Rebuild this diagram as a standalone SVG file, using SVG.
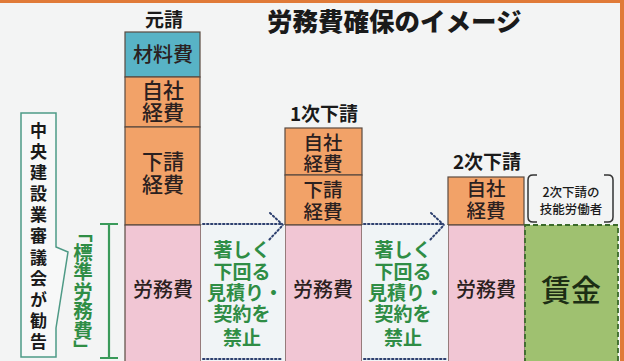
<svg xmlns="http://www.w3.org/2000/svg" width="624" height="361" viewBox="0 0 624 361">
<defs>
<style>
text{font-family:"Noto Sans CJK JP","Noto Sans",sans-serif;}
.lbl{font-size:19px;font-weight:700;fill:#1a1a1a;text-anchor:middle;}
.box{stroke:#5a4a40;stroke-width:1.2;}
.or{fill:#f2a268;}
.pk{fill:#f1c6d4;}
.bt{font-size:20px;font-weight:500;fill:#2a2020;text-anchor:middle;}
.gt{font-size:19px;font-weight:700;fill:#2f8d45;text-anchor:middle;}
.dot{fill:none;stroke:#2c3f6e;stroke-width:2;stroke-dasharray:1.5 2.5;stroke-linecap:round;}
</style>
</defs>
<rect x="0" y="0" width="624" height="361" fill="#f3f4f4"/>
<rect x="0" y="0" width="624" height="3" fill="#e07a38"/>
<rect x="620" y="0" width="4" height="361" fill="#e07a38"/>

<text x="267" y="31" style="font-size:25.5px;font-weight:900;fill:#1a1a1a">労務費確保のイメージ</text>

<g id="council">
<path d="M21,113 H56 V247 L68,252 L56,328 V357 H21 Z" fill="#f7f8f8" stroke="#4e9a86" stroke-width="1.5"/>
<text x="38.5" y="122" style="writing-mode:vertical-rl;font-size:17px;font-weight:700;fill:#1a1a1a;letter-spacing:4.1px">中央建設業審議会が勧告</text>
</g>

<g id="standard">
<text x="83" y="223" style="writing-mode:vertical-rl;font-size:19.5px;font-weight:700;fill:#2f8d45">「標準労務費」</text>
<path d="M100,224 H118 M109,224 V358 M100,358 H118" fill="none" stroke="#3a9a5a" stroke-width="2.2"/>
</g>

<g id="prime">
<text class="lbl" x="164" y="27">元請</text>
<rect class="box" x="125" y="32" width="75" height="45" fill="#58b3c6"/>
<text class="bt" x="163" y="62">材料費</text>
<rect class="box or" x="125" y="77" width="75" height="50"/>
<text class="bt" x="163" y="98" style="font-size:21px">自社</text>
<text class="bt" x="163" y="120" style="font-size:21px">経費</text>
<rect class="box or" x="125" y="127" width="75" height="98"/>
<text class="bt" x="163" y="169" style="font-size:21px">下請</text>
<text class="bt" x="163" y="192" style="font-size:21px">経費</text>
<rect class="box pk" x="125" y="225" width="76" height="140"/>
<text class="bt" x="163" y="297">労務費</text>
</g>

<g id="sub1">
<text class="lbl" x="324" y="121">1次下請</text>
<rect class="box or" x="285" y="128" width="77" height="47"/>
<text class="bt" x="323" y="150" style="font-size:19.5px">自社</text>
<text class="bt" x="323" y="171" style="font-size:19.5px">経費</text>
<rect class="box or" x="285" y="175" width="77" height="50"/>
<text class="bt" x="323" y="197" style="font-size:19.5px">下請</text>
<text class="bt" x="323" y="219" style="font-size:19.5px">経費</text>
<rect class="box pk" x="285" y="225" width="77" height="140"/>
<text class="bt" x="323" y="297">労務費</text>
</g>

<g id="sub2">
<text class="lbl" x="487" y="169">2次下請</text>
<rect class="box or" x="448" y="177" width="76" height="48"/>
<text class="bt" x="486" y="196" style="font-size:19.5px">自社</text>
<text class="bt" x="486" y="218" style="font-size:19.5px">経費</text>
<rect class="box pk" x="448" y="225" width="77" height="140"/>
<text class="bt" x="486" y="297">労務費</text>
</g>

<g id="gap1">
<rect x="201" y="225" width="84" height="136" fill="#f0f4f6"/>
<text class="gt" x="242" y="257">著しく</text>
<text class="gt" x="242" y="279">下回る</text>
<text class="gt" x="245" y="300">見積り・</text>
<text class="gt" x="242" y="321">契約を</text>
<text class="gt" x="242" y="345">禁止</text>
</g>
<g id="gap2">
<rect x="362" y="225" width="86" height="136" fill="#f0f4f6"/>
<text class="gt" x="403" y="257">著しく</text>
<text class="gt" x="403" y="279">下回る</text>
<text class="gt" x="406" y="300">見積り・</text>
<text class="gt" x="403" y="321">契約を</text>
<text class="gt" x="403" y="345">禁止</text>
</g>

<g id="wage">
<rect x="525" y="225" width="93" height="140" fill="#9fc170" stroke="#3a6a2a" stroke-width="1.8" stroke-dasharray="5 3"/>
<text x="571" y="301" style="font-size:30px;font-weight:500;fill:#1c2e14;text-anchor:middle">賃金</text>
</g>

<g id="worker">
<path d="M537,175 H533 Q528,175 528,180 V217 Q528,222 533,222 H537" fill="none" stroke="#333" stroke-width="1.5"/>
<path d="M604,175 H608 Q613,175 613,180 V217 Q613,222 608,222 H604" fill="none" stroke="#333" stroke-width="1.5"/>
<text x="571" y="197" style="font-size:12.5px;font-weight:500;fill:#1a1a1a;text-anchor:middle">2次下請の</text>
<text x="571" y="214" style="font-size:12.5px;font-weight:500;fill:#1a1a1a;text-anchor:middle">技能労働者</text>
</g>

<g id="connectors">
<path class="dot" d="M203,224 H281"/>
<path class="dot" d="M270,213 L283,225 L268,241"/>
<path class="dot" d="M364,224 H443"/>
<path class="dot" d="M431,213 L444,225 L429,241"/>
<path class="dot" d="M203,359 H283"/>
<path class="dot" d="M364,359 H446"/>
</g>
</svg>
